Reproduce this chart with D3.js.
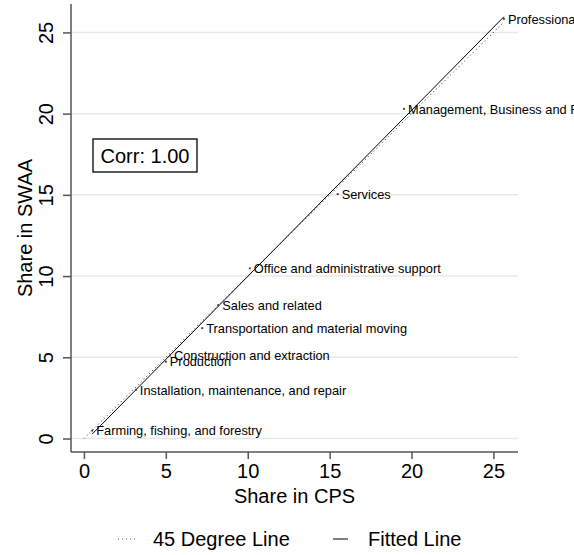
<!DOCTYPE html>
<html>
<head>
<meta charset="utf-8">
<script src="https://cdn.jsdelivr.net/npm/d3@7"></script>
<style>
  body { margin: 0; background: #fff; }
  text { font-family: "Liberation Sans", Arial, Helvetica, sans-serif; fill: #000; }
</style>
</head>
<body>
<svg id="chart" width="574" height="555"></svg>
<script>
// occupation groups: share in CPS (x) vs share in SWAA (y)
var occupations = [
    "Professional and related",
    "Management, Business and Financial",
    "Services",
    "Office and administrative support",
    "Sales and related",
    "Transportation and material moving",
    "Construction and extraction",
    "Production",
    "Installation, maintenance, and repair",
    "Farming, fishing, and forestry"
];
var shareCPS = [25.64, 19.54, 15.49, 10.13, 8.20, 7.22, 5.25, 5.00, 3.17, 0.51];
var shareSWAA = [25.83, 20.29, 15.04, 10.48, 8.22, 6.79, 5.10, 4.73, 2.99, 0.48];
var tickValues = [0, 5, 10, 15, 20, 25];
var corrLabel = "Corr: 1.00";
var legendLabels = ["45 Degree Line", "Fitted Line"];

var data = occupations.map((name, i) => ({ name: name, x: shareCPS[i], y: shareSWAA[i] }));

var svg = d3.select("#chart");
var plot = { left: 71, right: 518, top: 4, bottom: 452 };

var x = d3.scaleLinear().domain([-0.79, 26.5]).range([plot.left, plot.right]);
var y = d3.scaleLinear().domain([-0.83, 26.75]).range([plot.bottom, plot.top]);

// gridlines
svg.append("g")
    .selectAll("line")
    .data(tickValues)
    .join("line")
    .attr("x1", plot.left)
    .attr("x2", plot.right)
    .attr("y1", d => y(d))
    .attr("y2", d => y(d))
    .attr("stroke", "#e8e8e8")
    .attr("stroke-width", 1.5);

// axes
var xAxis = svg.append("g")
    .attr("transform", "translate(0," + plot.bottom + ")")
    .call(d3.axisBottom(x).tickValues(tickValues).tickSize(7).tickSizeOuter(0));
xAxis.select(".domain").attr("d", "M" + plot.left + ",0H" + plot.right);
xAxis.selectAll(".tick text")
    .attr("y", 12)
    .attr("dy", "0.71em")
    .style("font-size", "20px")
    .style("font-family", "Liberation Sans, Arial, sans-serif");

var yAxis = svg.append("g")
    .attr("transform", "translate(" + plot.left + ",0)")
    .call(d3.axisLeft(y).tickValues(tickValues).tickSize(8).tickSizeOuter(0));
yAxis.select(".domain").attr("d", "M0," + plot.top + "V" + plot.bottom);
yAxis.selectAll(".tick text")
    .attr("x", 0)
    .attr("dy", 0)
    .attr("text-anchor", "middle")
    .attr("transform", "translate(-18,0) rotate(-90)")
    .style("font-size", "20px")
    .style("font-family", "Liberation Sans, Arial, sans-serif");

svg.selectAll(".domain, .tick line").attr("stroke", "#555").attr("stroke-width", 1.5);

// axis titles
svg.append("text")
    .attr("x", (plot.left + plot.right) / 2)
    .attr("y", 503)
    .attr("text-anchor", "middle")
    .style("font-size", "20px")
    .text("Share in CPS");

svg.append("text")
    .attr("transform", "translate(32," + (plot.top + plot.bottom) / 2 + ") rotate(-90)")
    .attr("text-anchor", "middle")
    .style("font-size", "20px")
    .text("Share in SWAA");

// 45 degree line
var xMax = d3.max(data, d => d.x);
svg.append("line")
    .attr("x1", x(0)).attr("y1", y(0))
    .attr("x2", x(xMax)).attr("y2", y(xMax))
    .attr("stroke", "#222")
    .attr("stroke-width", 1)
    .attr("stroke-dasharray", "1 3");

// fitted line (least squares)
var mx = d3.mean(data, d => d.x), my = d3.mean(data, d => d.y);
var b = d3.sum(data, d => (d.x - mx) * (d.y - my)) / d3.sum(data, d => (d.x - mx) * (d.x - mx));
var a = my - b * mx;
var ext = d3.extent(data, d => d.x);
svg.append("line")
    .attr("x1", x(ext[0])).attr("y1", y(a + b * ext[0]))
    .attr("x2", x(ext[1])).attr("y2", y(a + b * ext[1]))
    .attr("stroke", "#000")
    .attr("stroke-width", 1);

// points + labels
var pts = svg.append("g");
pts.selectAll("circle")
    .data(data)
    .join("circle")
    .attr("cx", d => x(d.x))
    .attr("cy", d => y(d.y))
    .attr("r", 1.1)
    .attr("fill", "#444");

pts.selectAll("text")
    .data(data)
    .join("text")
    .attr("x", d => x(d.x) + 4)
    .attr("y", d => y(d.y))
    .attr("dy", "0.36em")
    .style("font-size", "12.8px")
    .text(d => d.name);

// correlation box
var corr = svg.append("g").attr("transform", "translate(93,139)");
corr.append("rect")
    .attr("width", 104)
    .attr("height", 33)
    .attr("fill", "#fff")
    .attr("stroke", "#000")
    .attr("stroke-width", 1.3);
corr.append("text")
    .attr("x", 52)
    .attr("y", 24)
    .attr("text-anchor", "middle")
    .style("font-size", "20px")
    .text(corrLabel);

// legend
var legend = svg.append("g").attr("transform", "translate(0,539)");
legend.append("line")
    .attr("x1", 118).attr("x2", 136)
    .attr("stroke", "#444")
    .attr("stroke-dasharray", "1 3");
legend.append("text")
    .attr("x", 153).attr("y", 0).attr("dy", "0.36em")
    .style("font-size", "20px")
    .text(legendLabels[0]);
legend.append("line")
    .attr("x1", 333).attr("x2", 348)
    .attr("stroke", "#000");
legend.append("text")
    .attr("x", 368).attr("y", 0).attr("dy", "0.36em")
    .style("font-size", "20px")
    .text(legendLabels[1]);
</script>
</body>
</html>
